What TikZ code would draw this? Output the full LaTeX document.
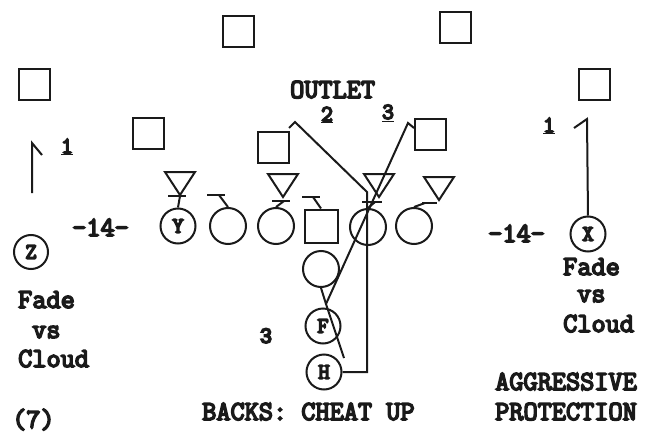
\documentclass[tikz,border=0pt]{standalone}
\usepackage{fontspec}
\newfontfamily\playfont{Latin Modern Mono}
\newfontfamily\numfont{Liberation Sans}
\usetikzlibrary{positioning}
\definecolor{PlayInk}{HTML}{1A1A1A}
\definecolor{PlayPaper}{HTML}{FFFFFF}
\tikzset{
  every node/.style={font=\playfont\fontsize{27.5}{30}\selectfont, text=PlayInk,
    execute at begin node=\special{pdf:literal direct 2 Tr 1.6 w},
    execute at end node=\special{pdf:literal direct 0 Tr}},
  defender/.style={draw=PlayInk, line width=2pt, minimum size=31pt, inner sep=0pt},
  lineman/.style={circle, draw=PlayInk, line width=2pt, minimum size=36pt, inner sep=0pt},
  snapper/.style={draw=PlayInk, line width=2pt, minimum size=33pt, inner sep=0pt},
  skill/.style={circle, draw=PlayInk, line width=2pt, minimum size=35pt, inner sep=0pt,
    font=\playfont\fontsize{22}{22}\selectfont},
  rusher/.style={draw=PlayInk, line width=2pt, line join=miter},
  block/.style={draw=PlayInk, line width=2pt},
  route/.style={draw=PlayInk, line width=2pt},
  routenum/.style={font=\playfont\fontsize{23}{23}\selectfont},
}

\begin{document}
\begin{tikzpicture}[x=1pt,y=-1pt]
  \useasboundingbox (0,0) rectangle (654,434);
  % Defense: squares in coverage
  \node[defender] (deepl) at (238,31) {};
  \node[defender] (deepr) at (455,27) {};
  \node[defender] (cornl) at (34,84) {};
  \node[defender] (cornr) at (594,84) {};
  \node[defender] (olbl) at (148,133) {};
  \node[defender] (mlb) at (273,147) {};
  \node[defender] (olbr) at (430,134) {};
  % Defense: rushers (apex down on the block bar)
  \foreach \x/\y in {180/195, 283/197, 379/197, 439/200}
    \draw[rusher] (\x-15,\y-23) -- (\x+15,\y-23) -- (\x,\y) -- cycle;
  % Offense: line
  \node[skill] (Y) at (178,226) {Y};
  \node[lineman] (lt) at (228,226) {};
  \node[lineman] (lg) at (276,226) {};
  \node[snapper] (ct) at (321,226) {};
  \node[lineman] (rg) at (368,227) {};
  \node[lineman] (rt) at (414,226) {};
  \foreach \n/\sx/\by/\bl/\br in {Y/180/196/168/186, lt/219/195/207/225,
      lg/284/201/272/290, rg/375/202/362/382, rt/425/203/422/437} {
    \draw[block] (\n.north) -- (\sx,\by);
    \draw[block] (\bl,\by) -- (\br,\by);
  }
  \draw[block] (ct.north) -- (313,197);
  \draw[block] (302,197) -- (320,197);
  % Offense: backs and wide-outs
  \node[lineman] (qb) at (321,269) {};
  \node[skill] (F) at (323,326) {F};
  \node[skill] (H) at (324,372) {H};
  \node[skill] (X) at (588,234) {X};
  \node[skill, minimum size=34pt] (Z) at (31,252) {Z};
  % Routes
  \coordinate (r2turn) at (367,192);
  \coordinate (r2peak) at (295,122);
  \coordinate (r2end) at (289,128);
  \draw[route] (H.east) -| (r2turn) -- (r2peak) -- (r2end);
  \coordinate (r3start) at (344,358);
  \coordinate (r3cut) at (326,304);
  \coordinate (r3peak) at (408,123);
  \coordinate (r3end) at (414,128);
  \draw[route] (r3start) -- (r3cut) -- (r3peak) -- (r3end);
  \draw[route] (qb.south) -- (r3cut);
  \coordinate (xpeak) at (587,119);
  \coordinate (xend) at (574,128);
  \draw[route] (X.north) -- (xpeak) -- (xend);
  \coordinate (zbase) at (32,193);
  \coordinate (zpeak) at (32,143);
  \coordinate (zend) at (42,155);
  \draw[route] (zbase) -- (zpeak) -- (zend);
  % Labels
  \node[anchor=base west, inner sep=0pt] (outlet) at (290,98) {OUTLET};
  \node[routenum] (num2) at (327,115) {\underline{2}};
  \node[routenum] (num3) at (388,113) {\underline{3}};
  \node[routenum] (num1l) at (67,147) {\underline{1}};
  \node[routenum] (num1r) at (549,126) {\underline{1}};
  \node[anchor=base west, inner sep=0pt] (yardl) at (72,236) {-14-};
  \node[anchor=base west, inner sep=0pt] (yardr) at (488,242) {-14-};
  \node[anchor=base west, inner sep=0pt] (fadel) at (18,308) {Fade};
  \node[anchor=base west, inner sep=0pt] (vsl) at (32,338) {vs};
  \node[anchor=base west, inner sep=0pt] (cloudl) at (18,367) {Cloud};
  \node[anchor=base west, inner sep=0pt] (fader) at (563,275) {Fade};
  \node[anchor=base west, inner sep=0pt] (vsr) at (577,302) {vs};
  \node[anchor=base west, inner sep=0pt] (cloudr) at (563,332) {Cloud};
  \node[anchor=base west, inner sep=0pt, font=\numfont\fontsize{21}{21}\selectfont] (three) at (260,343) {3};
  \node[anchor=base west, inner sep=0pt] (backs) at (202,420) {BACKS: CHEAT UP};
  \node[anchor=base west, inner sep=0pt] (aggr) at (495,390) {AGGRESSIVE};
  \node[anchor=base west, inner sep=0pt] (prot) at (495,420) {PROTECTION};
  \node[anchor=base west, inner sep=0pt] (play) at (12,428) {(7)};
\end{tikzpicture}
\end{document}
